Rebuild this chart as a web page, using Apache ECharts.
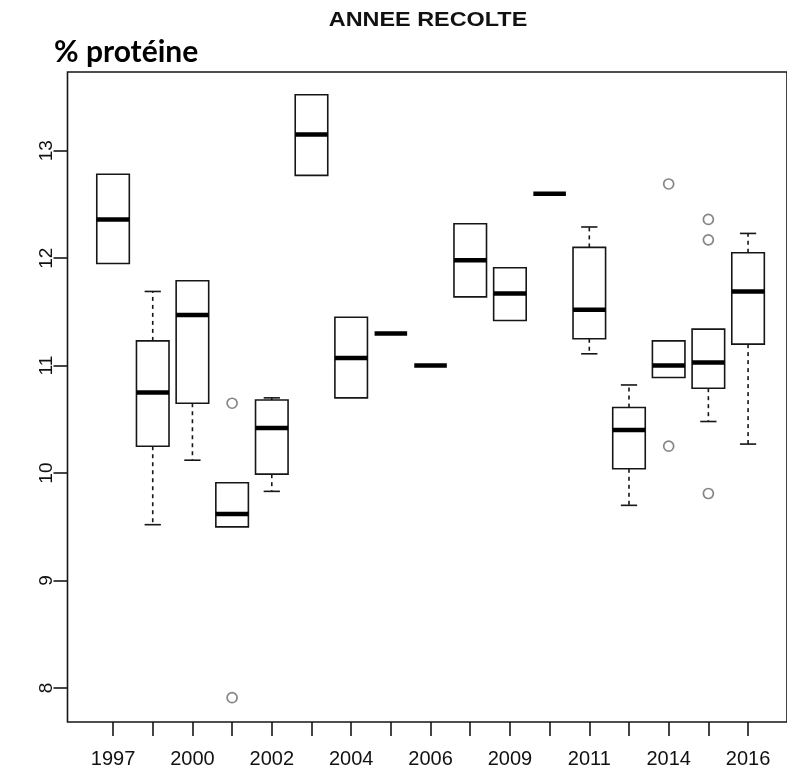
<!DOCTYPE html>
<html>
<head>
<meta charset="utf-8">
<script src="https://cdn.jsdelivr.net/npm/echarts@6/dist/echarts.min.js"></script>
<style>
  html, body { margin: 0; padding: 0; background: #fff; }
  #chart { width: 787px; height: 774px; }
</style>
</head>
<body>
<div id="chart"></div>
<script>
// ---- data ----
const years = ['1997','1998','2000','2001','2002','2003','2004','2005','2006','2007','2009','2010','2011','2012','2014','2015','2016'];
const whiskerLow  = [11.95, 9.52, 10.12, 9.50, 9.83, 12.77, 10.70, 11.30, 11.00, 11.64, 11.42, 12.60, 11.11, 9.70, 10.89, 10.48, 10.27];
const q1          = [11.95, 10.25, 10.65, 9.50, 9.99, 12.77, 10.70, 11.30, 11.00, 11.64, 11.42, 12.60, 11.25, 10.04, 10.89, 10.79, 11.20];
const median      = [12.36, 10.75, 11.47, 9.62, 10.42, 13.15, 11.07, 11.30, 11.00, 11.98, 11.67, 12.60, 11.52, 10.40, 11.00, 11.03, 11.69];
const q3          = [12.78, 11.23, 11.79, 9.91, 10.68, 13.52, 11.45, 11.30, 11.00, 12.32, 11.91, 12.60, 12.10, 10.61, 11.23, 11.34, 12.05];
const whiskerHigh = [12.78, 11.69, 11.79, 9.91, 10.70, 13.52, 11.45, 11.30, 11.00, 12.32, 11.91, 12.60, 12.29, 10.82, 11.23, 11.34, 12.23];
const outlierYears  = ['2001', '2001', '2014', '2014', '2015', '2015', '2015'];
const outlierValues = [10.65, 7.91, 12.69, 10.25, 12.36, 12.17, 9.81];
const yTicks = [8, 9, 10, 11, 12, 13];
const yMin = 7.684, yMax = 13.732;

const boxData = years.map((y, i) => [i, whiskerLow[i], q1[i], median[i], q3[i], whiskerHigh[i]]);
const outlierData = outlierYears.map((y, i) => [y, outlierValues[i]]);

const INK = '#161616';
const chart = echarts.init(document.getElementById('chart'));

function renderBox(params, api) {
  const x = api.value(0);
  const lo = api.coord([x, api.value(1)]);
  const b1 = api.coord([x, api.value(2)]);
  const md = api.coord([x, api.value(3)]);
  const b3 = api.coord([x, api.value(4)]);
  const hi = api.coord([x, api.value(5)]);
  const band = api.size([1, 0])[0];
  const hw = band * 0.41;
  const cw = hw / 2;
  const cx = md[0];
  const thin = { stroke: INK, lineWidth: 1.6, fill: null };
  const dashed = { stroke: INK, lineWidth: 1.6, lineDash: [4, 4], fill: null };
  const children = [];
  if (b1[1] - b3[1] > 0.5) {
    children.push({ type: 'rect', shape: { x: cx - hw, y: b3[1], width: 2 * hw, height: b1[1] - b3[1] }, style: thin });
  }
  if (b3[1] - hi[1] > 0.5) {
    children.push({ type: 'line', shape: { x1: cx, y1: b3[1], x2: cx, y2: hi[1] }, style: dashed });
    children.push({ type: 'line', shape: { x1: cx - cw, y1: hi[1], x2: cx + cw, y2: hi[1] }, style: thin });
  }
  if (lo[1] - b1[1] > 0.5) {
    children.push({ type: 'line', shape: { x1: cx, y1: b1[1], x2: cx, y2: lo[1] }, style: dashed });
    children.push({ type: 'line', shape: { x1: cx - cw, y1: lo[1], x2: cx + cw, y2: lo[1] }, style: thin });
  }
  children.push({ type: 'line', shape: { x1: cx - hw, y1: md[1], x2: cx + hw, y2: md[1] }, style: { stroke: '#000', lineWidth: 4.5 } });
  return { type: 'group', children };
}

const option = {
  backgroundColor: '#fff',
  animation: false,
  graphic: [
    { type: 'text', x: 428, y: 20, scaleX: 1.17, style: { text: 'ANNEE RECOLTE', textAlign: 'center', textVerticalAlign: 'middle', font: 'bold 20px "Liberation Sans", Arial, sans-serif', fill: '#111' } },
    { type: 'text', x: 54, y: 52, style: { text: '% protéine', textAlign: 'left', textVerticalAlign: 'middle', font: 'bold 30px Lato, "Noto Sans", sans-serif', fill: '#000' } }
  ],
  grid: [
    { left: 93.2, right: 19.1, top: 72, bottom: 52 },
    { left: 67.5, right: -10, top: 72, bottom: 52, show: true, borderColor: INK, borderWidth: 1.6, backgroundColor: 'transparent' }
  ],
  xAxis: [
    {
      gridIndex: 0, type: 'category', data: years, boundaryGap: true,
      axisLine: { show: false },
      axisTick: { show: true, alignWithLabel: true, interval: 0, length: 14, inside: false, lineStyle: { color: INK, width: 1.6 } },
      axisLabel: { interval: 1, margin: 27, fontSize: 20, color: '#111', fontFamily: '"Liberation Sans", Arial, sans-serif' },
      splitLine: { show: false }
    },
    { gridIndex: 1, type: 'value', min: 0, max: 1, show: false }
  ],
  yAxis: [
    { gridIndex: 0, type: 'value', min: yMin, max: yMax, show: false },
    {
      gridIndex: 1, type: 'value', min: yMin, max: yMax,
      axisLine: { show: false },
      axisTick: { show: true, length: 14, inside: false, customValues: yTicks, lineStyle: { color: INK, width: 1.6 } },
      axisLabel: { rotate: 90, margin: 11, fontSize: 19, color: '#111', customValues: yTicks, fontFamily: '"Liberation Sans", Arial, sans-serif' },
      splitLine: { show: false }
    }
  ],
  series: [
    {
      type: 'custom', xAxisIndex: 0, yAxisIndex: 0,
      renderItem: renderBox,
      encode: { x: 0, y: [1, 2, 3, 4, 5] },
      data: boxData,
      clip: false
    },
    {
      type: 'scatter', xAxisIndex: 0, yAxisIndex: 0,
      symbol: 'circle', symbolSize: 10,
      itemStyle: { color: '#fff', borderColor: '#666', borderWidth: 1.7 },
      data: outlierData
    }
  ]
};
chart.setOption(option);
</script>
</body>
</html>
